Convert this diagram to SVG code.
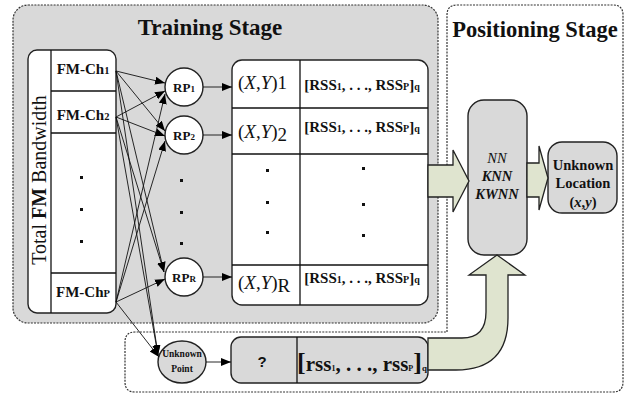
<svg xmlns="http://www.w3.org/2000/svg" width="630" height="394" viewBox="0 0 630 394">
<defs>
<marker id="ah" markerUnits="userSpaceOnUse" markerWidth="12" markerHeight="10" refX="10" refY="4" orient="auto">
<path d="M0,0 L10,4 L0,8 Z" fill="#000"/>
</marker>
<style>
.sv{font-family:"Liberation Serif","Times New Roman",serif;fill:#111}
.b{font-weight:bold}
.dot{stroke:#333;stroke-width:1.2;stroke-dasharray:2,1.2;fill:none}
.ln{stroke:#111;stroke-width:1.3;fill:none}
.cell{fill:#fff;stroke:#222;stroke-width:1.4}
.gbox{fill:#d9d9d9;stroke:#222;stroke-width:1.4}
.garrow{fill:#dfe4cf;stroke:#222;stroke-width:1.3}
.conn{stroke:#111;stroke-width:0.9;fill:none;marker-end:url(#ah)}
.dt{fill:#111}
</style>
</defs>
<g id="training-stage">
<rect x="13" y="5" width="425" height="318" rx="15" class="dot" style="fill:#d9d9d9"/>
<text class="sv b" x="210" y="35" font-size="23" text-anchor="middle">Training Stage</text>
</g>
<g id="positioning-stage">
<path class="dot" d="M457,5 H613 Q623,5 623,15 V382 Q623,392 613,392 H135 Q125,392 125,382 V342 Q125,332 135,332 H447 V15 Q447,5 457,5 Z"/>
<text class="sv b" x="535" y="37" font-size="22.5" text-anchor="middle">Positioning Stage</text>
</g>
<g id="fm-bandwidth">
<rect class="cell" x="28" y="50" width="88" height="263" rx="9"/>
<line class="ln" x1="51" y1="50" x2="51" y2="313"/>
<line class="ln" x1="51" y1="91" x2="116" y2="91"/>
<line class="ln" x1="51" y1="133" x2="116" y2="133"/>
<line class="ln" x1="51" y1="273" x2="116" y2="273"/>
<text class="sv" font-size="20" text-anchor="middle" transform="translate(46,180) rotate(-90)">Total <tspan font-weight="bold">FM</tspan> Bandwidth</text>
<text class="sv b" x="83" y="74" font-size="15" text-anchor="middle">FM-Ch<tspan font-size="10.5">1</tspan></text>
<text class="sv b" x="83" y="120" font-size="15" text-anchor="middle">FM-Ch<tspan font-size="10.5">2</tspan></text>
<text class="sv b" x="83" y="297" font-size="15" text-anchor="middle">FM-Ch<tspan font-size="10.5">P</tspan></text>
<rect class="dt" x="80" y="176" width="3" height="3"/>
<rect class="dt" x="80" y="208" width="3" height="3"/>
<rect class="dt" x="80" y="240" width="3" height="3"/>
</g>
<g id="rp1">
<circle cx="184" cy="87" r="19" fill="#fff" stroke="#222" stroke-width="1.4"/>
<text class="sv b" x="184" y="92" font-size="13" text-anchor="middle">RP<tspan font-size="9">1</tspan></text>
</g>
<g id="rp2">
<circle cx="184" cy="135" r="19" fill="#fff" stroke="#222" stroke-width="1.4"/>
<text class="sv b" x="184" y="140" font-size="13" text-anchor="middle">RP<tspan font-size="9">2</tspan></text>
</g>
<g id="rp-dots">
<rect class="dt" x="180" y="179" width="3" height="3"/>
<rect class="dt" x="180" y="211" width="3" height="3"/>
<rect class="dt" x="180" y="242" width="3" height="3"/>
</g>
<g id="rpR">
<circle cx="184" cy="277" r="19" fill="#fff" stroke="#222" stroke-width="1.4"/>
<text class="sv b" x="184" y="282" font-size="13" text-anchor="middle">RP<tspan font-size="9">R</tspan></text>
</g>
<g id="unknown-point">
<ellipse cx="182" cy="362" rx="24" ry="21" fill="#d9d9d9" stroke="#222" stroke-width="1.4"/>
<text class="sv b" x="182" y="357" font-size="9.5" text-anchor="middle">Unknown</text>
<text class="sv b" x="182" y="372" font-size="9.5" text-anchor="middle">Point</text>
</g>
<g id="fingerprint-table">
<rect class="cell" x="232" y="60" width="196" height="245" rx="10"/>
<line class="ln" x1="300" y1="60" x2="300" y2="305"/>
<line class="ln" x1="232" y1="108" x2="428" y2="108"/>
<line class="ln" x1="232" y1="154" x2="428" y2="154"/>
<line class="ln" x1="232" y1="265" x2="428" y2="265"/>
<text class="sv" x="238" y="89" font-size="19">(<tspan font-style="italic">X</tspan>,<tspan font-style="italic">Y</tspan>)1</text>
<text class="sv" x="238" y="138" font-size="19">(<tspan font-style="italic">X</tspan>,<tspan font-style="italic">Y</tspan>)<tspan dy="3">2</tspan></text>
<text class="sv" x="238" y="289" font-size="19">(<tspan font-style="italic">X</tspan>,<tspan font-style="italic">Y</tspan>)<tspan dy="3">R</tspan></text>
<text class="sv b" x="362" y="90" font-size="15" text-anchor="middle">[RSS<tspan font-size="10">1</tspan>, . . ., RSS<tspan font-size="10">P</tspan>]<tspan font-size="10">q</tspan></text>
<text class="sv b" x="362" y="132" font-size="15" text-anchor="middle">[RSS<tspan font-size="10">1</tspan>, . . ., RSS<tspan font-size="10">P</tspan>]<tspan font-size="10">q</tspan></text>
<text class="sv b" x="362" y="283" font-size="15" text-anchor="middle">[RSS<tspan font-size="10">1</tspan>, . . ., RSS<tspan font-size="10">P</tspan>]<tspan font-size="10">q</tspan></text>
<rect class="dt" x="266" y="169" width="3" height="3"/>
<rect class="dt" x="266" y="201" width="3" height="3"/>
<rect class="dt" x="266" y="231" width="3" height="3"/>
<rect class="dt" x="362" y="167" width="3" height="3"/>
<rect class="dt" x="362" y="203" width="3" height="3"/>
<rect class="dt" x="362" y="234" width="3" height="3"/>
</g>
<g id="query-table">
<rect class="gbox" x="231" y="337" width="197" height="46" rx="10"/>
<line class="ln" x1="297" y1="337" x2="297" y2="383"/>
<text x="262" y="367" font-family="Liberation Sans, Arial, sans-serif" font-weight="bold" font-size="15" text-anchor="middle" fill="#111">?</text>
<text class="sv b" x="362" y="371" font-size="21" text-anchor="middle"><tspan font-size="26">[</tspan>rss<tspan font-size="8">1</tspan>, . . ., rss<tspan font-size="8">P</tspan><tspan font-size="26">]</tspan><tspan font-size="9">q</tspan></text>
</g>
<g id="nn-box">
<rect class="gbox" x="468" y="100" width="59" height="155" rx="16"/>
<text class="sv" x="497" y="163" font-size="14.5" font-style="italic" text-anchor="middle">NN</text>
<text class="sv b" x="497" y="181" font-size="14.5" font-style="italic" text-anchor="middle">KNN</text>
<text class="sv b" x="497" y="199" font-size="14.5" font-style="italic" text-anchor="middle">KWNN</text>
</g>
<g id="unknown-location">
<rect class="gbox" x="548" y="142" width="69" height="71" rx="14"/>
<text class="sv b" x="583" y="170" font-size="14.5" text-anchor="middle">Unknown</text>
<text class="sv b" x="583" y="188" font-size="14.5" text-anchor="middle">Location</text>
<text class="sv b" x="583" y="207" font-size="14.5" text-anchor="middle">(<tspan font-style="italic">x</tspan>,<tspan font-style="italic">y</tspan>)</text>
</g>
<g id="connectors">
<line class="conn" x1="116" y1="71" x2="165" y2="83"/>
<line class="conn" x1="116" y1="71" x2="165" y2="131"/>
<line class="conn" x1="116" y1="71" x2="164" y2="272"/>
<line class="conn" x1="116" y1="71" x2="158" y2="355"/>
<line class="conn" x1="116" y1="117" x2="165" y2="91"/>
<line class="conn" x1="116" y1="117" x2="165" y2="136"/>
<line class="conn" x1="116" y1="117" x2="164" y2="272"/>
<line class="conn" x1="116" y1="117" x2="158" y2="355"/>
<line class="conn" x1="116" y1="302" x2="165" y2="94"/>
<line class="conn" x1="116" y1="302" x2="165" y2="141"/>
<line class="conn" x1="116" y1="302" x2="165" y2="279"/>
<line class="conn" x1="116" y1="302" x2="159" y2="357"/>
<line class="conn" x1="203" y1="87" x2="232" y2="87"/>
<line class="conn" x1="203" y1="135" x2="232" y2="135"/>
<line class="conn" x1="203" y1="277" x2="232" y2="277"/>
<line class="conn" x1="206" y1="362" x2="231" y2="362"/>
<polygon class="garrow" points="428,165 453,165 453,150 469,181 453,212 453,197 428,197"/>
<polygon class="garrow" points="527,163 539,163 539,146 548,178 539,210 539,197 527,197"/>
<path class="garrow" d="M428,338 L462,338 Q486,338 486,312 L486,275 L469,275 L497,255 L525,275 L508,275 L508,318 Q508,370 456,370 L428,370 Z"/>
</g>
</svg>
